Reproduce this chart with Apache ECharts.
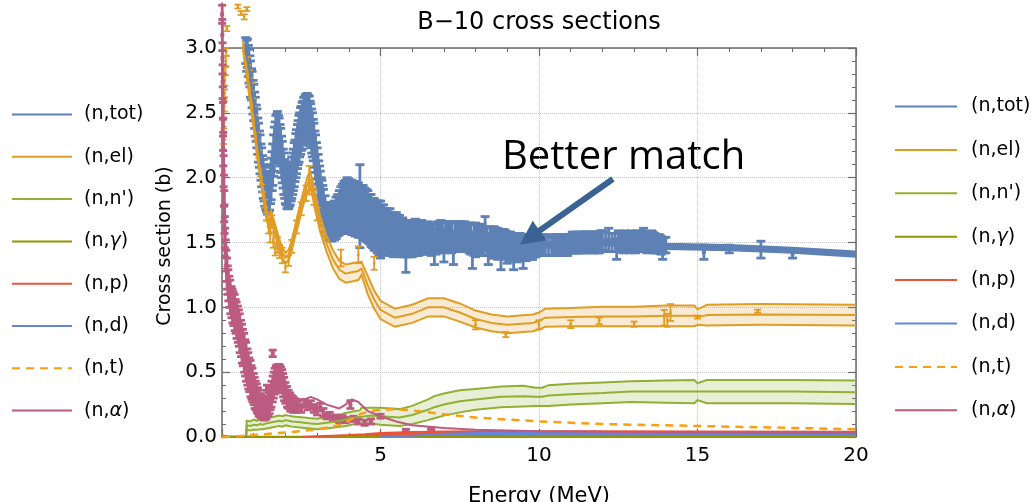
<!DOCTYPE html>
<html>
<head>
<meta charset="utf-8">
<script src="https://cdn.jsdelivr.net/npm/echarts@6.0.0/dist/echarts.min.js"></script>
<style>
  html, body { margin: 0; padding: 0; background: #fff; }
  #chart { width: 1034px; height: 502px; }
</style>
</head>
<body>
<div id="chart"></div>
<script>
// ---------- axes ----------
const xRange = [0, 20];
const xStep = 5;
const yRange = [0, 3];
const yStep = 0.5;

// ---------- reaction channels (legend order) ----------
const channels = ['(n,tot)', '(n,el)', "(n,n')", '(n,γ)', '(n,p)', '(n,d)', '(n,t)', '(n,α)'];
const channelColors = ['#5E81B5', '#E19C24', '#8FB032', '#929600', '#E95536', '#6685D9', '#F89F13', '#BC5B80'];

// ---------- (n,tot) evaluation: energy (MeV), cross section (b) ----------
const totE   = [0.7, 0.85, 1.0, 1.2, 1.45, 1.6, 1.75, 1.9, 2.1, 2.3, 2.5, 2.68, 2.85, 3.0, 3.2, 3.4, 3.7, 4.0, 4.5, 5.0, 6.0, 8.0, 10, 12, 14, 16, 18, 20];
const totMid = [3.0, 2.86, 2.58, 2.18, 1.87, 2.1, 2.32, 2.12, 1.92, 2.13, 2.38, 2.47, 2.33, 2.07, 1.77, 1.65, 1.73, 1.78, 1.72, 1.6, 1.54, 1.52, 1.48, 1.5, 1.47, 1.46, 1.44, 1.41];
const totHalf = 0.02;

// ---------- (n,tot) measurements: [E, sigma, error] ----------
const totMeas = [
  [0.75,2.98,0.10],[0.78,2.94,0.12],[0.80,2.96,0.11],[0.83,2.90,0.12],[0.85,2.86,0.13],[0.88,2.82,0.12],
  [0.90,2.76,0.14],[0.93,2.72,0.12],[0.95,2.68,0.14],[0.98,2.62,0.13],[1.00,2.58,0.14],[1.03,2.52,0.14],
  [1.05,2.47,0.15],[1.08,2.42,0.14],[1.10,2.38,0.15],[1.13,2.32,0.14],[1.15,2.27,0.15],[1.18,2.22,0.14],
  [1.20,2.18,0.15],[1.23,2.12,0.14],[1.25,2.08,0.15],[1.28,2.03,0.14],[1.30,1.99,0.15],[1.33,1.96,0.14],
  [1.35,1.93,0.15],[1.38,1.90,0.14],[1.40,1.88,0.14],[1.43,1.87,0.15],[1.45,1.86,0.14],[1.48,1.88,0.14],
  [1.50,1.90,0.15],[1.53,1.95,0.15],[1.55,1.99,0.16],[1.58,2.05,0.15],[1.60,2.10,0.16],[1.63,2.17,0.16],
  [1.65,2.22,0.17],[1.68,2.27,0.16],[1.70,2.30,0.18],[1.73,2.32,0.17],[1.75,2.33,0.18],[1.78,2.31,0.17],
  [1.80,2.29,0.17],[1.83,2.25,0.16],[1.85,2.21,0.17],[1.88,2.16,0.16],[1.90,2.12,0.16],[1.93,2.07,0.15],
  [1.95,2.03,0.16],[1.98,1.99,0.15],[2.00,1.96,0.16],[2.03,1.94,0.15],[2.05,1.92,0.16],[2.08,1.92,0.15],
  [2.10,1.92,0.16],[2.13,1.93,0.15],[2.15,1.95,0.16],[2.18,1.97,0.15],[2.20,2.00,0.16],[2.23,2.03,0.16],
  [2.25,2.06,0.16],[2.28,2.10,0.17],[2.30,2.13,0.16],[2.33,2.17,0.17],[2.35,2.20,0.17],[2.38,2.24,0.17],
  [2.40,2.27,0.17],[2.43,2.30,0.18],[2.45,2.33,0.17],[2.48,2.36,0.18],[2.50,2.38,0.17],[2.53,2.40,0.18],
  [2.55,2.42,0.17],[2.58,2.44,0.18],[2.60,2.45,0.17],[2.63,2.46,0.18],[2.65,2.47,0.17],[2.68,2.47,0.18],
  [2.70,2.47,0.17],[2.73,2.46,0.17],[2.75,2.45,0.18],[2.78,2.42,0.17],[2.80,2.40,0.17],[2.83,2.36,0.17],
  [2.85,2.33,0.17],[2.88,2.29,0.16],[2.90,2.25,0.17],[2.93,2.20,0.16],[2.95,2.16,0.17],[2.98,2.11,0.16],
  [3.00,2.07,0.16],[3.03,2.02,0.16],[3.05,1.98,0.15],[3.08,1.94,0.15],[3.10,1.90,0.15],[3.13,1.86,0.14],
  [3.15,1.83,0.15],[3.18,1.80,0.14],[3.20,1.77,0.14],[3.25,1.72,0.14],[3.30,1.68,0.13],[3.35,1.66,0.14],
  [3.40,1.65,0.13],[3.45,1.65,0.14],[3.50,1.66,0.14],[3.55,1.67,0.15],[3.60,1.69,0.16],[3.65,1.71,0.16],
  [3.70,1.73,0.17],[3.75,1.75,0.18],[3.80,1.76,0.19],[3.85,1.77,0.20],[3.90,1.78,0.20],[3.95,1.79,0.21],
  [4.00,1.78,0.21],[4.05,1.78,0.20],[4.10,1.77,0.21],[4.15,1.77,0.20],[4.20,1.76,0.21],[4.25,1.76,0.20],
  [4.30,1.75,0.21],[4.35,1.78,0.32],[4.40,1.74,0.20],[4.45,1.73,0.21],[4.50,1.72,0.20],[4.55,1.71,0.20],
  [4.60,1.70,0.20],[4.65,1.68,0.19],[4.70,1.67,0.20],[4.75,1.65,0.19],[4.80,1.64,0.20],[4.85,1.63,0.19],
  [4.90,1.62,0.20],[4.95,1.61,0.21],[5.00,1.60,0.22],
  [5.05,1.61,0.18],[5.1,1.60,0.19],[5.15,1.59,0.17],[5.2,1.58,0.18],[5.25,1.60,0.16],[5.3,1.59,0.17],
  [5.35,1.57,0.16],[5.4,1.56,0.17],[5.45,1.58,0.15],[5.5,1.57,0.16],[5.55,1.55,0.15],[5.6,1.55,0.16],
  [5.65,1.54,0.14],[5.7,1.54,0.15],[5.75,1.53,0.14],[5.8,1.46,0.19],[5.85,1.53,0.14],[5.9,1.53,0.14],
  [5.95,1.52,0.13],[6.0,1.52,0.13],[6.05,1.53,0.13],[6.1,1.54,0.14],[6.15,1.53,0.12],[6.2,1.53,0.13],
  [6.25,1.54,0.12],[6.3,1.55,0.12],[6.35,1.53,0.12],[6.4,1.53,0.12],[6.45,1.54,0.11],[6.5,1.54,0.12],
  [6.55,1.53,0.12],[6.6,1.52,0.12],[6.65,1.53,0.11],[6.7,1.47,0.14],[6.75,1.53,0.12],[6.8,1.54,0.12],
  [6.85,1.54,0.11],[6.9,1.55,0.12],[6.95,1.54,0.11],[7.0,1.48,0.13],[7.05,1.54,0.12],[7.1,1.55,0.11],
  [7.15,1.55,0.11],[7.2,1.56,0.10],[7.25,1.54,0.12],[7.3,1.46,0.13],[7.35,1.54,0.11],[7.4,1.55,0.11],
  [7.45,1.55,0.11],[7.5,1.56,0.10],[7.55,1.55,0.11],[7.6,1.54,0.11],[7.65,1.55,0.11],[7.7,1.55,0.10],
  [7.75,1.54,0.11],[7.8,1.53,0.11],[7.85,1.53,0.12],[7.9,1.44,0.14],[7.95,1.52,0.12],[8.0,1.52,0.13],
  [8.05,1.53,0.11],[8.1,1.53,0.11],[8.15,1.52,0.12],[8.2,1.52,0.12],[8.25,1.51,0.11],[8.3,1.57,0.13],
  [8.35,1.51,0.11],[8.4,1.45,0.12],[8.45,1.51,0.11],[8.5,1.51,0.11],[8.55,1.50,0.12],[8.6,1.50,0.12],
  [8.65,1.50,0.11],[8.7,1.49,0.12],[8.75,1.49,0.11],[8.8,1.44,0.15],[8.85,1.49,0.11],[8.9,1.49,0.11],
  [8.95,1.48,0.11],[9.0,1.46,0.12],[9.05,1.47,0.11],[9.1,1.47,0.11],[9.15,1.47,0.10],[9.2,1.42,0.13],
  [9.25,1.47,0.10],[9.3,1.46,0.11],[9.35,1.46,0.10],[9.4,1.47,0.10],[9.45,1.46,0.10],[9.5,1.42,0.12],
  [9.55,1.46,0.10],[9.6,1.46,0.10],[9.65,1.47,0.09],[9.7,1.47,0.09],[9.75,1.46,0.09],[9.8,1.46,0.09],
  [9.85,1.47,0.08],[9.9,1.47,0.08],[9.95,1.48,0.08],[10.0,1.48,0.08],[10.05,1.47,0.07],[10.1,1.47,0.07],
  [10.15,1.48,0.08],[10.2,1.48,0.08],[10.3,1.47,0.07],[10.4,1.47,0.07],[10.45,1.48,0.08],[10.5,1.48,0.08],
  [10.55,1.49,0.07],[10.6,1.49,0.07],[10.65,1.48,0.08],[10.7,1.48,0.08],[10.75,1.49,0.07],[10.8,1.49,0.07],
  [10.85,1.48,0.08],[10.9,1.48,0.08],[10.95,1.49,0.07],[11.0,1.49,0.07],[11.05,1.50,0.08],[11.1,1.50,0.08],
  [11.15,1.49,0.07],[11.2,1.49,0.07],[11.25,1.50,0.08],[11.3,1.50,0.08],[11.35,1.51,0.07],[11.4,1.51,0.07],
  [11.45,1.50,0.08],[11.5,1.50,0.08],[11.55,1.51,0.07],[11.6,1.51,0.07],[11.65,1.50,0.08],[11.7,1.50,0.08],
  [11.75,1.51,0.07],[11.8,1.51,0.07],[11.85,1.50,0.08],[11.9,1.50,0.08],[11.95,1.51,0.08],[12.0,1.51,0.08],
  [12.1,1.51,0.07],[12.2,1.52,0.09],[12.3,1.50,0.07],[12.4,1.50,0.07],[12.45,1.45,0.08],[12.5,1.51,0.08],
  [12.55,1.51,0.07],[12.6,1.50,0.07],[12.65,1.50,0.08],[12.7,1.51,0.08],[12.75,1.51,0.07],[12.8,1.50,0.07],
  [12.85,1.50,0.08],[12.9,1.51,0.08],[12.95,1.51,0.07],[13.0,1.50,0.07],[13.05,1.50,0.08],[13.1,1.51,0.08],
  [13.15,1.51,0.07],[13.2,1.50,0.07],[13.25,1.51,0.08],[13.3,1.52,0.09],[13.35,1.51,0.07],[13.4,1.50,0.08],
  [13.45,1.50,0.07],[13.5,1.51,0.07],[13.55,1.51,0.08],[13.6,1.50,0.08],[13.65,1.50,0.07],[13.7,1.49,0.07],
  [13.75,1.49,0.07],[13.8,1.49,0.07],[13.85,1.48,0.07],[13.9,1.45,0.08],[13.95,1.48,0.06],[14.0,1.48,0.06],
  [15.2,1.425,0.055],[16.0,1.45,0.03],[17.0,1.445,0.065],[18.0,1.415,0.035]
];

// ---------- (n,el) evaluation with uncertainty ----------
const elE    = [0.66, 0.75, 0.85, 0.95, 1.05, 1.15, 1.25, 1.35, 1.45, 1.5,
                1.55, 1.6, 1.7, 1.8, 1.9, 2.0, 2.1, 2.2, 2.3, 2.4,
                2.5, 2.6, 2.7, 2.78, 2.85, 2.95, 3.1, 3.3, 3.5, 3.7,
                3.9, 4.1, 4.3, 4.4, 4.6, 4.8, 5.0, 5.45, 6.0, 6.5,
                7.0, 7.5, 8.0, 8.5, 9.0, 9.8, 10.0, 10.2, 11, 12,
                13, 14, 14.9, 15.0, 15.3, 17, 20];
const elMid  = [3.02, 2.86, 2.68, 2.5, 2.31, 2.12, 1.96, 1.8, 1.66, 1.63,
                1.70, 1.66, 1.58, 1.49, 1.42, 1.38, 1.40, 1.48, 1.58, 1.68,
                1.78, 1.87, 1.95, 1.99, 1.92, 1.80, 1.64, 1.49, 1.37, 1.29,
                1.26, 1.27, 1.28, 1.30, 1.17, 1.06, 0.98, 0.92, 0.95, 1.00,
                1.00, 0.96, 0.91, 0.88, 0.865, 0.88, 0.895, 0.92, 0.925, 0.93,
                0.93, 0.935, 0.935, 0.925, 0.94, 0.945, 0.94];
const elHalf = [0.03, 0.03, 0.03, 0.03, 0.03, 0.03, 0.03, 0.03, 0.03, 0.03,
                0.04, 0.04, 0.04, 0.04, 0.04, 0.04, 0.04, 0.04, 0.04, 0.05,
                0.05, 0.05, 0.06, 0.06, 0.06, 0.06, 0.06, 0.06, 0.07, 0.07,
                0.07, 0.07, 0.07, 0.05, 0.07, 0.07, 0.07, 0.07, 0.07, 0.07,
                0.07, 0.07, 0.065, 0.065, 0.065, 0.065, 0.065, 0.07, 0.07, 0.075,
                0.075, 0.08, 0.08, 0.06, 0.08, 0.08, 0.08];

// ---------- (n,el) measurements ----------
const elMeas = [
  [0.05,2.30,0.04],[0.06,2.42,0.04],[0.07,2.55,0.04],[0.08,2.65,0.03],[0.09,2.75,0.04],[0.10,2.82,0.03],
  [0.12,2.90,0.04],[0.13,2.97,0.03],[0.15,3.15,0.02],[0.50,3.32,0.015],[0.60,3.27,0.015],[0.70,3.24,0.02],
  [0.78,3.30,0.015],
  [0.80,2.90,0.03],[0.86,2.80,0.03],[0.92,2.70,0.03],[0.98,2.58,0.03],[1.04,2.45,0.03],[1.10,2.32,0.03],
  [1.16,2.18,0.03],[1.22,2.04,0.03],[1.28,1.92,0.03],[1.34,1.80,0.03],[1.40,1.70,0.03],
  [1.47,1.62,0.05],[1.52,1.56,0.06],[1.57,1.66,0.05],[1.62,1.52,0.06],[1.68,1.45,0.05],[1.75,1.48,0.06],
  [1.82,1.43,0.05],[1.90,1.40,0.06],[2.00,1.31,0.04],[2.10,1.36,0.04],[2.20,1.47,0.05],[2.35,1.62,0.05],
  [2.50,1.76,0.05],[2.65,1.88,0.06],[2.75,1.98,0.11],[2.90,1.85,0.06],[3.00,1.72,0.05],
  [3.75,1.38,0.065],[4.30,1.405,0.065],[4.80,1.34,0.05],
  [8.0,0.865,0.035],[8.95,0.79,0.02],[10.0,0.865,0.035],[11.0,0.87,0.03],[11.9,0.895,0.025],[13.0,0.87,0.02],
  [13.95,0.92,0.06],[14.05,0.90,0.05],[14.15,0.96,0.065],[15.0,0.925,0.012],[16.9,0.97,0.012]
];

// ---------- (n,n') evaluation with uncertainty ----------
const nnE    = [0.76, 0.78, 0.9, 1.0, 1.1, 1.2, 1.3, 1.4, 1.5, 1.6,
                1.7, 1.8, 1.9, 2.0, 2.1, 2.2, 2.4, 2.6, 2.8, 3.0,
                3.3, 3.6, 3.9, 4.2, 4.35, 4.4, 4.7, 5.0, 5.6, 6.0,
                6.5, 6.7, 7.0, 7.5, 8.0, 8.8, 9.5, 9.9, 10.1, 10.3,
                11, 12, 12.9, 14, 14.9, 15.0, 15.3, 16, 18, 20];
const nnMid  = [0.0, 0.09, 0.085, 0.095, 0.09, 0.1, 0.095, 0.105, 0.11, 0.115,
                0.12, 0.125, 0.12, 0.13, 0.125, 0.12, 0.115, 0.11, 0.105, 0.1,
                0.11, 0.12, 0.135, 0.15, 0.155, 0.165, 0.165, 0.16, 0.15, 0.17,
                0.21, 0.23, 0.25, 0.275, 0.29, 0.31, 0.315, 0.31, 0.31, 0.32,
                0.33, 0.34, 0.35, 0.35, 0.35, 0.35, 0.35, 0.35, 0.35, 0.345];
const nnHalf = [0, 0.035, 0.035, 0.04, 0.035, 0.04, 0.035, 0.04, 0.04, 0.04,
                0.04, 0.04, 0.04, 0.04, 0.04, 0.04, 0.04, 0.04, 0.04, 0.04,
                0.045, 0.045, 0.05, 0.05, 0.05, 0.06, 0.06, 0.065, 0.065, 0.07,
                0.08, 0.085, 0.085, 0.085, 0.08, 0.08, 0.08, 0.07, 0.07, 0.08,
                0.08, 0.08, 0.08, 0.085, 0.09, 0.065, 0.09, 0.09, 0.09, 0.09];

// ---------- (n,γ), (n,p), (n,d), (n,t) ----------
const ngE = [0, 0.2, 0.5, 1, 2, 5, 10, 20];
const ngV = [0.012, 0.006, 0.004, 0.003, 0.002, 0.001, 0.001, 0.001];
const npE = [2.5, 3.0, 3.5, 4.0, 4.5, 5.0, 5.5, 6.0, 7.0, 8.0, 10, 12, 15, 20];
const npV = [0, 0.005, 0.01, 0.015, 0.022, 0.03, 0.035, 0.038, 0.042, 0.045, 0.045, 0.045, 0.043, 0.04];
const ndE = [5.0, 5.5, 6.0, 6.5, 7.0, 8.0, 9.0, 10, 12, 15, 20];
const ndV = [0, 0.003, 0.01, 0.018, 0.025, 0.03, 0.032, 0.033, 0.033, 0.032, 0.03];
const ntE = [0, 0.3, 0.6, 1.0, 1.5, 2.0, 2.5, 3.0, 3.5, 3.8, 4.1, 4.4, 4.7, 5.0, 5.5, 6.0, 6.5, 7.0, 8.0, 9.0, 10, 12, 14, 16, 18, 20];
const ntV = [0, 0.003, 0.008, 0.015, 0.025, 0.035, 0.045, 0.06, 0.08, 0.1, 0.14, 0.18, 0.2, 0.21, 0.215, 0.205, 0.19, 0.175, 0.15, 0.135, 0.12, 0.1, 0.09, 0.08, 0.07, 0.06];

// ---------- (n,α) evaluation ----------
const naE = [0.003, 0.01, 0.02, 0.04, 0.07, 0.1, 0.15, 0.2, 0.3, 0.4,
             0.5, 0.6, 0.7, 0.8, 0.9, 1.0, 1.1, 1.2, 1.3, 1.4,
             1.5, 1.6, 1.7, 1.8, 1.9, 2.0, 2.1, 2.2, 2.4, 2.6,
             2.8, 3.0, 3.3, 3.7, 3.9, 4.1, 4.3, 4.6, 5.0, 5.5,
             6.0, 7.0, 8.0, 10, 12, 15, 20];
const naV = [3.35, 3.0, 2.6, 2.2, 1.8, 1.5, 1.3, 1.18, 1.05, 0.97,
             0.88, 0.77, 0.65, 0.55, 0.45, 0.37, 0.3, 0.25, 0.22, 0.22,
             0.26, 0.34, 0.45, 0.52, 0.5, 0.43, 0.35, 0.3, 0.28, 0.29,
             0.31, 0.29, 0.25, 0.22, 0.25, 0.29, 0.27, 0.2, 0.16, 0.12,
             0.09, 0.07, 0.055, 0.045, 0.04, 0.035, 0.03];

// ---------- (n,α) measurements ----------
const naMeas = [
  [0.005,3.26,0.07],[0.01,3.10,0.12],[0.015,2.92,0.12],[0.02,2.74,0.13],[0.025,2.58,0.12],[0.03,2.45,0.13],
  [0.035,2.33,0.12],[0.04,2.22,0.13],[0.05,2.05,0.12],[0.06,1.90,0.12],[0.07,1.78,0.12],[0.08,1.68,0.11],
  [0.09,1.58,0.12],[0.10,1.50,0.11],[0.12,1.40,0.12],[0.14,1.32,0.12],[0.16,1.26,0.12],[0.18,1.21,0.11],
  [0.20,1.17,0.12],[0.23,1.12,0.12],[0.26,1.08,0.13],[0.30,1.04,0.12],[0.33,1.01,0.13],[0.36,0.99,0.13],
  [0.40,0.96,0.14],[0.43,0.93,0.13],[0.46,0.90,0.14],[0.50,0.87,0.14],[0.53,0.84,0.14],[0.56,0.80,0.15],
  [0.60,0.76,0.14],[0.63,0.72,0.15],[0.66,0.69,0.14],[0.70,0.65,0.15],[0.73,0.61,0.14],[0.76,0.58,0.15],
  [0.80,0.54,0.14],[0.83,0.51,0.14],[0.86,0.48,0.13],[0.90,0.45,0.14],[0.93,0.42,0.13],[0.96,0.40,0.13],
  [1.00,0.37,0.12],[1.03,0.34,0.12],[1.06,0.32,0.11],[1.10,0.30,0.11],[1.13,0.28,0.10],[1.16,0.26,0.10],
  [1.20,0.245,0.09],[1.23,0.235,0.09],[1.26,0.225,0.08],[1.30,0.215,0.08],[1.33,0.21,0.08],[1.36,0.215,0.08],
  [1.40,0.22,0.08],[1.43,0.235,0.08],[1.46,0.25,0.09],[1.50,0.27,0.09],[1.53,0.30,0.09],[1.56,0.33,0.10],
  [1.60,0.37,0.10],[1.63,0.40,0.10],[1.66,0.43,0.10],[1.70,0.45,0.10],[1.73,0.46,0.09],[1.76,0.47,0.09],
  [1.80,0.47,0.09],[1.83,0.46,0.09],[1.86,0.45,0.09],[1.90,0.43,0.09],[1.93,0.40,0.09],[1.96,0.37,0.09],
  [2.00,0.34,0.08],[2.05,0.31,0.08],[2.10,0.29,0.07],[2.15,0.27,0.07],[2.20,0.26,0.06],[2.25,0.25,0.06],
  [2.30,0.245,0.05],[2.35,0.24,0.05],[2.40,0.235,0.04],
  [1.42,0.38,0.02],[1.60,0.645,0.025],
  [2.50,0.22,0.03],[2.60,0.26,0.03],[2.70,0.24,0.03],[2.80,0.25,0.03],[2.90,0.22,0.03],[3.00,0.20,0.03],
  [3.10,0.23,0.03],[3.20,0.19,0.03],[3.30,0.16,0.02],[3.40,0.17,0.02],[3.50,0.14,0.02],[3.60,0.15,0.02],
  [3.70,0.13,0.02],[3.80,0.145,0.02],[3.90,0.13,0.02],[4.05,0.25,0.03],[4.15,0.14,0.02],[4.30,0.12,0.02],
  [4.50,0.11,0.02],[4.70,0.12,0.02],[5.00,0.16,0.015],[5.80,0.05,0.01],[6.60,0.06,0.01]
];

// ---------- annotation (energy, cross section) ----------
const noteText = 'Better match';
const arrowTip = [9.4, 1.485];
const arrowTail = [12.33, 1.99];

// ---------- helpers ----------
const colorOf = name => channelColors[channels.indexOf(name)];
const halfAt = (half, i) => (Array.isArray(half) ? half[i] : half);

function bandSeries(id, E, mid, half, color, fill) {
  return {
    type: 'custom', id, name: id, silent: true,
    data: [[E[0], mid[0]]], encode: { x: 0, y: 1 },
    renderItem: (params, api) => {
      const up = E.map((e, i) => api.coord([e, mid[i] + halfAt(half, i)]));
      const lo = E.map((e, i) => api.coord([e, mid[i] - halfAt(half, i)]));
      return {
        type: 'group',
        children: [
          { type: 'polygon', shape: { points: up.concat(lo.slice().reverse()) }, style: { fill } },
          { type: 'polyline', shape: { points: up }, style: { stroke: color, lineWidth: 2, fill: 'none' } },
          { type: 'polyline', shape: { points: lo }, style: { stroke: color, lineWidth: 2, fill: 'none' } }
        ]
      };
    }
  };
}

function errorSeries(id, pts, color, cap, lw, mark) {
  return {
    type: 'custom', id, name: id, silent: true,
    data: pts, encode: { x: 0, y: 1 },
    renderItem: (params, api) => {
      const e = api.value(0), s = api.value(1), d = api.value(2);
      const c = api.coord([e, s]);
      const t = api.coord([e, s + d]);
      const b = api.coord([e, s - d]);
      const st = { stroke: color, lineWidth: lw };
      return {
        type: 'group',
        children: [
          { type: 'line', shape: { x1: c[0], y1: t[1], x2: c[0], y2: b[1] }, style: st },
          { type: 'line', shape: { x1: c[0] - cap / 2, y1: t[1], x2: c[0] + cap / 2, y2: t[1] }, style: st },
          { type: 'line', shape: { x1: c[0] - cap / 2, y1: b[1], x2: c[0] + cap / 2, y2: b[1] }, style: st },
          { type: 'rect', shape: { x: c[0] - mark / 2, y: c[1] - mark / 2, width: mark, height: mark }, style: { fill: color } }
        ]
      };
    }
  };
}

function lineSeries(name, E, V, opts) {
  const color = colorOf(name);
  return Object.assign({
    type: 'line', name, symbol: 'none', clip: false, silent: true,
    data: E.map((e, i) => [e, V[i]]),
    lineStyle: { color, width: 2 },
    itemStyle: { color }
  }, opts || {});
}

// ---------- chart ----------
const chart = echarts.init(document.getElementById('chart'), null, { renderer: 'canvas' });

const frame = '#6b6b6b';
const tickFont = { fontFamily: 'DejaVu Sans', fontSize: 20, color: '#000' };
const gridLine = { show: true, lineStyle: { type: 'dotted', color: '#c4c4c4', width: 1 } };

function frameAxis(extra) {
  return Object.assign({
    type: 'value',
    axisLine: { show: true, onZero: false, lineStyle: { color: frame, width: 1.5 } },
    axisTick: { show: true, inside: true, length: 8, lineStyle: { color: frame, width: 1.2 } },
    minorTick: { show: true, splitNumber: 5, length: 4, lineStyle: { color: frame, width: 1 } },
    splitLine: { show: false }
  }, extra);
}

const legendFormatter = n => n.replace(/([γα])/, '{g|$1}');
function legendAt(left, top, gap, iconW, textGap) {
  return {
    data: channels, orient: 'vertical', left, top,
    itemWidth: iconW, itemHeight: 20, itemGap: gap, selectedMode: false,
    itemStyle: { opacity: 0, borderWidth: 0 },
    formatter: legendFormatter,
    textStyle: {
      fontFamily: 'DejaVu Sans', fontSize: 19, color: '#000', padding: [0, 0, 0, textGap],
      rich: { g: { fontFamily: 'DejaVu Sans', fontSize: 19, fontStyle: 'italic', color: '#000' } }
    }
  };
}

const option = {
  animation: false,
  backgroundColor: '#fff',
  grid: { left: 222, right: 178, top: 48, bottom: 65, containLabel: false },
  xAxis: [
    frameAxis({
      position: 'bottom', min: xRange[0], max: xRange[1], interval: xStep,
      axisLabel: Object.assign({ margin: 9, formatter: v => (v === 0 ? '' : String(v)) }, tickFont),
      splitLine: gridLine
    }),
    frameAxis({ position: 'top', min: xRange[0], max: xRange[1], interval: xStep, axisLabel: { show: false } })
  ],
  yAxis: [
    frameAxis({
      position: 'left', min: yRange[0], max: yRange[1], interval: yStep,
      axisLabel: Object.assign({ margin: 5, formatter: v => v.toFixed(1) }, tickFont),
      splitLine: gridLine
    }),
    frameAxis({ position: 'right', min: yRange[0], max: yRange[1], interval: yStep, axisLabel: { show: false } })
  ],
  legend: [legendAt(6, 100, 23.3, 60, 7), legendAt(889, 92, 24.4, 62, 9)],
  series: [
    bandSeries('tot-band', totE, totMid, totHalf, colorOf('(n,tot)'), colorOf('(n,tot)')),
    lineSeries('(n,tot)', totE, totMid),
    errorSeries('tot-meas', totMeas, colorOf('(n,tot)'), 9, 2.8, 4),
    bandSeries('el-band', elE, elMid, elHalf, colorOf('(n,el)'), 'rgba(225,156,36,0.2)'),
    lineSeries('(n,el)', elE, elMid),
    errorSeries('el-meas', elMeas, colorOf('(n,el)'), 7, 1.8, 2.5),
    bandSeries('nn-band', nnE, nnMid, nnHalf, colorOf("(n,n')"), 'rgba(143,176,50,0.2)'),
    lineSeries("(n,n')", nnE, nnMid),
    lineSeries('(n,γ)', ngE, ngV),
    lineSeries('(n,p)', npE, npV, { areaStyle: { color: colorOf('(n,p)'), opacity: 1 } }),
    lineSeries('(n,d)', ndE, ndV, { areaStyle: { color: colorOf('(n,d)'), opacity: 1 } }),
    lineSeries('(n,t)', ntE, ntV, { lineStyle: { color: colorOf('(n,t)'), width: 2.5, type: [8, 6] } }),
    errorSeries('na-meas', naMeas, colorOf('(n,α)'), 8, 2.8, 4),
    lineSeries('(n,α)', naE, naV)
  ],
  graphic: [
    { type: 'text', id: 'title', x: 539, y: 23,
      style: { text: 'B−10 cross sections', font: '24px "DejaVu Sans"', fill: '#000', textAlign: 'center', textVerticalAlign: 'middle' } },
    { type: 'text', id: 'ylab', x: 165, y: 246, rotation: Math.PI / 2,
      style: { text: 'Cross section (b)', font: '19px "DejaVu Sans"', fill: '#000', textAlign: 'center', textVerticalAlign: 'middle' } },
    { type: 'text', id: 'xlab', x: 539, y: 497,
      style: { text: 'Energy (MeV)', font: '21px "DejaVu Sans"', fill: '#000', textAlign: 'center', textVerticalAlign: 'middle' } },
    { type: 'text', id: 'note', x: 502, y: 158,
      style: { text: noteText, font: '40px "Open Sans"', fill: '#000', textAlign: 'left', textVerticalAlign: 'middle' } }
  ]
};

chart.setOption(option);

// arrow pointing from the note to the total cross section
const tip = chart.convertToPixel({ xAxisIndex: 0, yAxisIndex: 0 }, arrowTip);
const tail = chart.convertToPixel({ xAxisIndex: 0, yAxisIndex: 0 }, arrowTail);
const dx = tip[0] - tail[0], dy = tip[1] - tail[1];
const len = Math.hypot(dx, dy);
const ux = dx / len, uy = dy / len;
const headLen = 24, headHalf = 12;
const base = [tip[0] - ux * headLen, tip[1] - uy * headLen];
const arrowColor = '#3A6293';
chart.setOption({
  graphic: [
    { type: 'line', id: 'arrow-shaft', z: 100,
      shape: { x1: tail[0], y1: tail[1], x2: base[0] + ux * 2, y2: base[1] + uy * 2 },
      style: { stroke: arrowColor, lineWidth: 6 } },
    { type: 'polygon', id: 'arrow-head', z: 100,
      shape: { points: [tip, [base[0] - uy * headHalf, base[1] + ux * headHalf], [base[0] + uy * headHalf, base[1] - ux * headHalf]] },
      style: { fill: arrowColor } }
  ]
});
</script>
</body>
</html>
